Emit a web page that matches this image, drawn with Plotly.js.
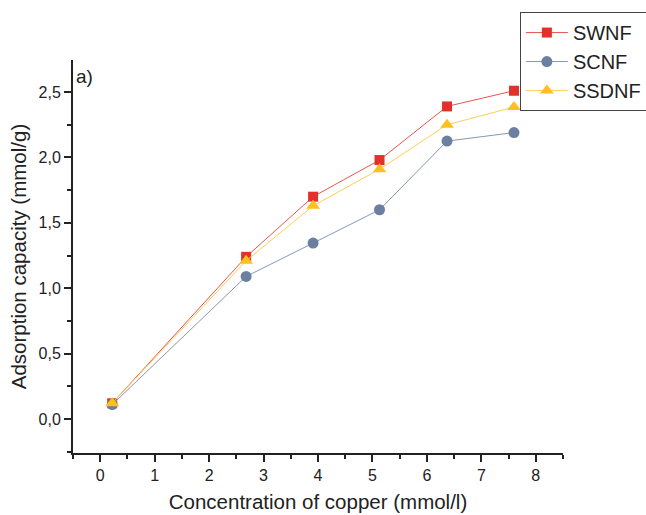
<!DOCTYPE html>
<html>
<head>
<meta charset="utf-8">
<script src="https://cdn.plot.ly/plotly-3.0.1.min.js"></script>
<style>
  html, body { margin: 0; padding: 0; background: #fff; }
  #chart { width: 646px; height: 515px; }
</style>
</head>
<body>
<div id="chart"></div>
<script>
// Copper concentration (mmol/l) and adsorption capacity (mmol/g) for each fibre type
const concentration = [0.22, 2.68, 3.91, 5.13, 6.37, 7.60];
const swnf  = [0.12, 1.24, 1.70, 1.98, 2.39, 2.51];
const scnf  = [0.11, 1.09, 1.345, 1.60, 2.125, 2.19];
const ssdnf = [0.12, 1.21, 1.63, 1.91, 2.25, 2.385];
const seriesNames = ['SWNF', 'SCNF', 'SSDNF'];

const styles = [
  { color: '#e2302a', line: '#e8564f', symbol: 'square', size: 10 },
  { color: '#6b7fa0', line: '#8797b3', symbol: 'circle', size: 11 },
  { color: '#fcc11f', line: '#fdcf55', symbol: 'triangle-up', size: 12 }
];

const values = [swnf, scnf, ssdnf];
const traces = values.map((ys, i) => ({
  x: concentration,
  y: ys,
  name: seriesNames[i],
  type: 'scatter',
  mode: 'lines+markers',
  line: { color: styles[i].line, width: 1 },
  marker: { color: styles[i].color, symbol: styles[i].symbol, size: styles[i].size }
}));

const axisFont = { family: 'Liberation Sans, Arial, sans-serif', size: 16, color: '#222' };

const layout = {
  width: 646,
  height: 515,
  separators: ', ',
  paper_bgcolor: '#fff',
  plot_bgcolor: '#fff',
  margin: { l: 73, r: 83, t: 60, b: 62, autoexpand: false },
  font: { family: 'Liberation Sans, Arial, sans-serif', color: '#222' },
  showlegend: true,
  legend: {
    x: 0.912, y: 1.122, xanchor: 'left', yanchor: 'top',
    bordercolor: '#444', borderwidth: 1, bgcolor: '#fff',
    font: { size: 20, color: '#222' },
    tracegroupgap: 0, itemwidth: 42
  },
  xaxis: {
    range: [-0.5, 8.5],
    tick0: 0, dtick: 1,
    ticks: 'outside', ticklen: 7, tickwidth: 2, tickcolor: '#222',
    minor: { dtick: 0.5, tick0: 0, ticks: 'outside', ticklen: 4, tickwidth: 2, tickcolor: '#222' },
    showline: true, linecolor: '#222', linewidth: 2,
    showgrid: false, zeroline: false,
    tickfont: axisFont,
    title: { text: 'Concentration of copper (mmol/l)', font: { size: 20.5, color: '#222' }, standoff: 11 }
  },
  yaxis: {
    range: [-0.26, 2.745],
    tick0: 0, dtick: 0.5, tickformat: '.1f',
    ticks: 'outside', ticklen: 7, tickwidth: 2, tickcolor: '#222',
    minor: { dtick: 0.25, tick0: 0, ticks: 'outside', ticklen: 4, tickwidth: 2, tickcolor: '#222' },
    showline: true, linecolor: '#222', linewidth: 2,
    showgrid: false, zeroline: false,
    tickfont: axisFont,
    title: { text: 'Adsorption capacity (mmol/g)', font: { size: 20.5, color: '#222' }, standoff: 6 }
  },
  annotations: [{
    text: 'a)', xref: 'paper', yref: 'paper', x: 0.003, y: 0.99,
    xanchor: 'left', yanchor: 'top', showarrow: false,
    font: { size: 19, color: '#222' }
  }]
};

Plotly.newPlot('chart', traces, layout, { displayModeBar: false, staticPlot: true });
</script>
</body>
</html>
